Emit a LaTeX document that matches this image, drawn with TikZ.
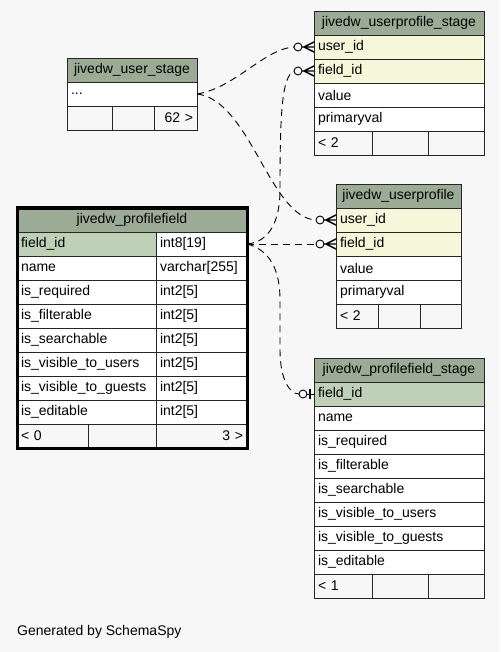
\documentclass[tikz,border=0pt]{standalone}
\usepackage{fontspec}
\setmainfont{Liberation Sans}
\usetikzlibrary{positioning, fit, calc}
\definecolor{hdrgreen}{HTML}{9BAB96}
\definecolor{pkgreen}{HTML}{BED1B8}
\definecolor{fkyellow}{HTML}{F4F7DA}
\definecolor{bggray}{HTML}{F7F7F7}
\newcommand{\tblfont}{\fontsize{14}{16}\selectfont}

\begin{document}
\begin{tikzpicture}[
    x=1pt, y=-1pt,
    cell/.style={rectangle, draw=black!85, line width=0.9pt, fill=white,
                 minimum height=24pt, inner xsep=4pt, inner ysep=0pt,
                 outer sep=0pt, text width=#1, align=left, font=\tblfont},
    hdr/.style={cell=#1, fill=hdrgreen, align=center},
    pk/.style={fill=pkgreen},
    fk/.style={fill=fkyellow},
    foot/.style={fill=bggray},
    rel/.style={draw=black, line width=0.9pt, dash pattern=on 7pt off 5pt},
    zeromany/.pic={
        \draw[line width=0.9pt, fill=bggray] (-16,0) circle[radius=4pt];
        \draw[line width=1.4pt] (-10,0) -- (0,-5) (-12,0) -- (0,0) (-10,0) -- (0,5);
    },
    zeroone/.pic={
        \draw[line width=0.9pt] (-7,0) -- (0,0);
        \draw[line width=0.9pt, fill=bggray] (-11,0) circle[radius=4pt];
        \draw[line width=2pt] (-4,-5) -- (-4,5);
    },
]

%% Background and page size
\fill[bggray] (0,0) rectangle (500,652);
\useasboundingbox (0,0) rectangle (500,652);

%% jivedw_userprofile_stage
\node[hdr=162pt, anchor=north west] (ups_hdr) at (314,11) {jivedw\_userprofile\_stage};
\node[cell=162pt, fk, below=0pt of ups_hdr]  (ups_user)  {user\_id};
\node[cell=162pt, fk, below=0pt of ups_user] (ups_field) {field\_id};
\node[cell=162pt, below=0pt of ups_field]    (ups_value) {value};
\node[cell=162pt, below=0pt of ups_value]    (ups_prim)  {primaryval};
\node[cell=50pt, foot, below=0pt of ups_prim.south west, anchor=north west] (ups_f1) {< 2};
\node[cell=48pt, foot, right=0pt of ups_f1] (ups_f2) {};
\node[cell=48pt, foot, right=0pt of ups_f2] (ups_f3) {};

%% jivedw_user_stage
\node[hdr=122pt, anchor=north west] (us_hdr) at (67,58) {jivedw\_user\_stage};
\node[cell=122pt, below=0pt of us_hdr] (us_dots) {...};
\node[cell=37pt, foot, below=0pt of us_dots.south west, anchor=north west] (us_f1) {};
\node[cell=34pt, foot, right=0pt of us_f1] (us_f2) {};
\node[cell=35pt, foot, align=right, right=0pt of us_f2] (us_f3) {62 >};

%% jivedw_profilefield
\node[hdr=222pt, anchor=north west] (pf_hdr) at (17,208) {jivedw\_profilefield};
\node[cell=131pt, pk, below=0pt of pf_hdr.south west, anchor=north west] (pf_field) {field\_id};
\node[cell=131pt, below=0pt of pf_field] (pf_name)  {name};
\node[cell=131pt, below=0pt of pf_name]  (pf_req)   {is\_required};
\node[cell=131pt, below=0pt of pf_req]   (pf_filt)  {is\_filterable};
\node[cell=131pt, below=0pt of pf_filt]  (pf_srch)  {is\_searchable};
\node[cell=131pt, below=0pt of pf_srch]  (pf_vusr)  {is\_visible\_to\_users};
\node[cell=131pt, below=0pt of pf_vusr]  (pf_vgst)  {is\_visible\_to\_guests};
\node[cell=131pt, below=0pt of pf_vgst]  (pf_edit)  {is\_editable};
\node[cell=83pt, right=0pt of pf_field] (pf_field_t) {int8[19]};
\node[cell=83pt, right=0pt of pf_name]  (pf_name_t)  {varchar[255]};
\node[cell=83pt, right=0pt of pf_req]   (pf_req_t)   {int2[5]};
\node[cell=83pt, right=0pt of pf_filt]  (pf_filt_t)  {int2[5]};
\node[cell=83pt, right=0pt of pf_srch]  (pf_srch_t)  {int2[5]};
\node[cell=83pt, right=0pt of pf_vusr]  (pf_vusr_t)  {int2[5]};
\node[cell=83pt, right=0pt of pf_vgst]  (pf_vgst_t)  {int2[5]};
\node[cell=83pt, right=0pt of pf_edit]  (pf_edit_t)  {int2[5]};
\node[cell=63pt, foot, below=0pt of pf_edit.south west, anchor=north west] (pf_f1) {< 0};
\node[cell=60pt, foot, right=0pt of pf_f1] (pf_f2) {};
\node[cell=83pt, foot, align=right, right=0pt of pf_f2] (pf_f3) {3 >};
\node[draw=black, line width=3pt, inner sep=0pt, fit=(pf_hdr)(pf_f1)(pf_f3)] (pf_frame) {};

%% jivedw_userprofile
\node[hdr=117pt, anchor=north west] (up_hdr) at (336,184) {jivedw\_userprofile};
\node[cell=117pt, fk, below=0pt of up_hdr]  (up_user)  {user\_id};
\node[cell=117pt, fk, below=0pt of up_user] (up_field) {field\_id};
\node[cell=117pt, below=0pt of up_field]    (up_value) {value};
\node[cell=117pt, below=0pt of up_value]    (up_prim)  {primaryval};
\node[cell=34pt, foot, below=0pt of up_prim.south west, anchor=north west] (up_f1) {< 2};
\node[cell=34pt, foot, right=0pt of up_f1] (up_f2) {};
\node[cell=33pt, foot, right=0pt of up_f2] (up_f3) {};

%% jivedw_profilefield_stage
\node[hdr=162pt, anchor=north west] (pfs_hdr) at (314,358) {jivedw\_profilefield\_stage};
\node[cell=162pt, pk, below=0pt of pfs_hdr] (pfs_field) {field\_id};
\node[cell=162pt, below=0pt of pfs_field] (pfs_name) {name};
\node[cell=162pt, below=0pt of pfs_name]  (pfs_req)  {is\_required};
\node[cell=162pt, below=0pt of pfs_req]   (pfs_filt) {is\_filterable};
\node[cell=162pt, below=0pt of pfs_filt]  (pfs_srch) {is\_searchable};
\node[cell=162pt, below=0pt of pfs_srch]  (pfs_vusr) {is\_visible\_to\_users};
\node[cell=162pt, below=0pt of pfs_vusr]  (pfs_vgst) {is\_visible\_to\_guests};
\node[cell=162pt, below=0pt of pfs_vgst]  (pfs_edit) {is\_editable};
\node[cell=50pt, foot, below=0pt of pfs_edit.south west, anchor=north west] (pfs_f1) {< 1};
\node[cell=48pt, foot, right=0pt of pfs_f1] (pfs_f2) {};
\node[cell=48pt, foot, right=0pt of pfs_f2] (pfs_f3) {};

%% Relationships
\draw[rel] (us_dots.east) .. controls +(38,-6) and +(-30,2) .. ($(ups_user.west)+(-20,0)$);
\draw[rel] (us_dots.east) .. controls +(53,6) and +(-46,-2) .. ($(up_user.west)+(-20,0)$);
\draw[rel] (pf_field_t.east) .. controls +(23,-2) and +(0,30) .. (280,190)
           .. controls +(0,-80) and +(-12,6) .. ($(ups_field.west)+(-20,0)$);
\draw[rel] (pf_field_t.east) -- ($(up_field.west)+(-20,0)$);
\draw[rel] (pf_field_t.east) .. controls +(23,6) and +(0,-30) .. (280,300)
           -- (280,350) .. controls +(0,30) and +(-9,0) .. ($(pfs_field.west)+(-15,0)$);

\pic at (ups_user.west)  {zeromany};
\pic at (ups_field.west) {zeromany};
\pic at (up_user.west)   {zeromany};
\pic at (up_field.west)  {zeromany};
\pic at (pfs_field.west) {zeroone};

%% Footer
\node[font=\tblfont, anchor=west, inner sep=0pt] (credit) at (17,632) {Generated by SchemaSpy};

\end{tikzpicture}
\end{document}
